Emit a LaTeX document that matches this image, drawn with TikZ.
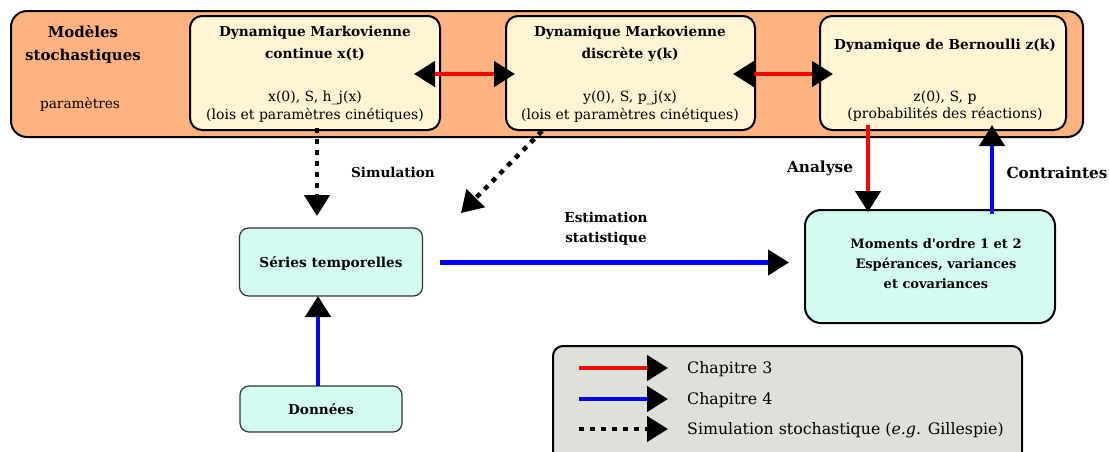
\documentclass[tikz,border=0pt]{standalone}
\usepackage{fontspec}
\setmainfont{DejaVu Serif}
\usetikzlibrary{arrows.meta}
\definecolor{orangebg}{HTML}{FFB380}
\definecolor{cream}{HTML}{FFF5D5}
\definecolor{cyanbg}{HTML}{D5FCF2}
\definecolor{legendbg}{HTML}{DDE1DA}
\definecolor{softborder}{HTML}{333333}
\begin{document}
\begin{tikzpicture}[x=1pt,y=-1pt,
  outerbox/.style={draw=black,line width=2pt,fill=orangebg,rounded corners=16pt,inner sep=0pt},
  dynbox/.style={draw=black,line width=2pt,fill=cream,rounded corners=12pt,inner sep=0pt,minimum height=114pt},
  resbox/.style={draw=softborder,line width=1.2pt,fill=cyanbg,rounded corners=9pt,inner sep=0pt},
  momboxstyle/.style={draw=black,line width=2pt,fill=cyanbg,rounded corners=16pt,inner sep=0pt},
  legbox/.style={draw=black,line width=2pt,fill=legendbg,rounded corners=10pt,inner sep=0pt},
  hd/.style={font=\fontsize{13.7}{16}\selectfont\bfseries,inner sep=0pt,anchor=base},
  bd/.style={font=\fontsize{14}{16}\selectfont,inner sep=0pt,anchor=base},
  mom/.style={font=\fontsize{13}{15}\selectfont\bfseries,inner sep=0pt,anchor=base},
  lbl/.style={font=\fontsize{13.6}{16}\selectfont\bfseries,inner sep=0pt,anchor=base},
  biglbl/.style={font=\fontsize{15.3}{18}\selectfont\bfseries,inner sep=0pt,anchor=base},
  legtxt/.style={font=\fontsize{15.8}{18}\selectfont,inner sep=0pt,anchor=base west},
  headtip/.style={-{Triangle[length=21pt,width=25pt,color=black]}},
  redarr/.style={draw=red,line width=4.5pt,headtip},
  bluearr/.style={draw=blue,line width=4.5pt,headtip},
  redboth/.style={draw=red,line width=4.5pt,{Triangle[length=21pt,width=25pt,color=black]}-{Triangle[length=21pt,width=25pt,color=black]}},
  dotarr/.style={draw=black,line width=4.5pt,dash pattern=on 5pt off 6pt,headtip}
]
\clip (0,0) rectangle (1109,451);
\useasboundingbox (0,0) rectangle (1109,451);

% outer stochastic models frame
\node[outerbox,minimum width=1072pt,minimum height=126pt] (outer) at (547,74) {};
\node[font=\fontsize{15}{18}\selectfont\bfseries,inner sep=0pt,anchor=base] (mod1) at (83,37.5) {Modèles};
\node[font=\fontsize{15}{18}\selectfont\bfseries,inner sep=0pt,anchor=base] (mod2) at (83,60.5) {stochastiques};
\node[font=\fontsize{13.7}{16}\selectfont,inner sep=0pt,anchor=base] (param) at (80,108) {paramètres};

% three dynamics boxes
\node[dynbox,minimum width=250pt] (box1) at (315,73) {};
\node[dynbox,minimum width=249pt] (box2) at (630.5,73) {};
\node[dynbox,minimum width=246pt] (box3) at (943,73) {};

\node[hd] (b1a) at (315,36) {Dynamique Markovienne};
\node[hd] (b1b) at (315,58) {continue x(t)};
\node[bd] (b1c) at (315,101) {x(0), S, h\_j(x)};
\node[bd] (b1d) at (315,119) {(lois et paramètres cinétiques)};

\node[hd] (b2a) at (630,36) {Dynamique Markovienne};
\node[hd] (b2b) at (630,58) {discrète y(k)};
\node[bd] (b2c) at (630,101) {y(0), S, p\_j(x)};
\node[bd] (b2d) at (630,119) {(lois et paramètres cinétiques)};

\node[hd] (b3a) at (945,49) {Dynamique de Bernoulli z(k)};
\node[bd] (b3c) at (945,101) {z(0), S, p};
\node[bd] (b3d) at (945,118) {(probabilités des réactions)};

% double red arrows
\draw[redboth] ([xshift=-27pt,yshift=-1pt]box1.east) -- ([xshift=10pt,yshift=-1pt]box2.west);
\draw[redboth] ([xshift=-23pt,yshift=-1pt]box2.east) -- ([xshift=14pt,yshift=-1pt]box3.west);

% lower boxes
\node[resbox,minimum width=183pt,minimum height=68pt] (series) at (331,262) {};
\node[hd] (seriest) at (331,267) {Séries temporelles};
\node[resbox,minimum width=162pt,minimum height=46pt] (donnees) at (321,409) {};
\node[lbl] (donneest) at (321,414) {Données};
\node[momboxstyle,minimum width=250pt,minimum height=113pt] (moments) at (930,266.5) {};
\node[mom] (m1) at (936,248) {Moments d\textquotesingle ordre 1 et 2};
\node[mom] (m2) at (936,268) {Espérances, variances};
\node[mom] (m3) at (936,288) {et covariances};

% simulation arrows
\coordinate (simstart) at (317,128);
\coordinate (simend) at (317,216);
\draw[dotarr] (simstart) -- (simend);
\coordinate (diagstart) at (542,131);
\coordinate (diagend) at (461,213);
\draw[dotarr] (diagstart) -- (diagend);
\node[lbl] (simlbl) at (393,177) {Simulation};

% estimation
\coordinate (eststart) at (440,262.5);
\coordinate (estend) at (789,262.5);
\draw[bluearr] (eststart) -- (estend);
\node[lbl] (est1) at (606,222) {Estimation};
\node[lbl] (est2) at (606,242) {statistique};

% data
\coordinate (datstart) at (318,386);
\coordinate (datend) at (318,296);
\draw[bluearr] (datstart) -- (datend);

% analyse / contraintes
\coordinate (anstart) at (868,125);
\coordinate (anend) at (868,212);
\draw[redarr] (anstart) -- (anend);
\node[biglbl] (anlbl) at (820,172.5) {Analyse};
\coordinate (cstart) at (992,214);
\coordinate (cend) at (992,125);
\draw[bluearr] (cstart) -- (cend);
\node[biglbl] (clbl) at (1057,178) {Contraintes};

% legend
\node[legbox,minimum width=469pt,minimum height=120pt] (legend) at (787.5,406) {};
\coordinate (l1s) at (579,368);
\coordinate (l1e) at (668,368);
\coordinate (l2s) at (579,399);
\coordinate (l2e) at (668,399);
\coordinate (l3s) at (579,429);
\coordinate (l3e) at (668,429);
\draw[redarr] (l1s) -- (l1e);
\draw[bluearr] (l2s) -- (l2e);
\draw[dotarr] (l3s) -- (l3e);
\node[legtxt] (lt1) at (687,373.5) {Chapitre 3};
\node[legtxt] (lt2) at (687,404.5) {Chapitre 4};
\node[legtxt] (lt3) at (687,434.5) {Simulation stochastique (\textit{e.g.} Gillespie)};
\end{tikzpicture}
\end{document}
